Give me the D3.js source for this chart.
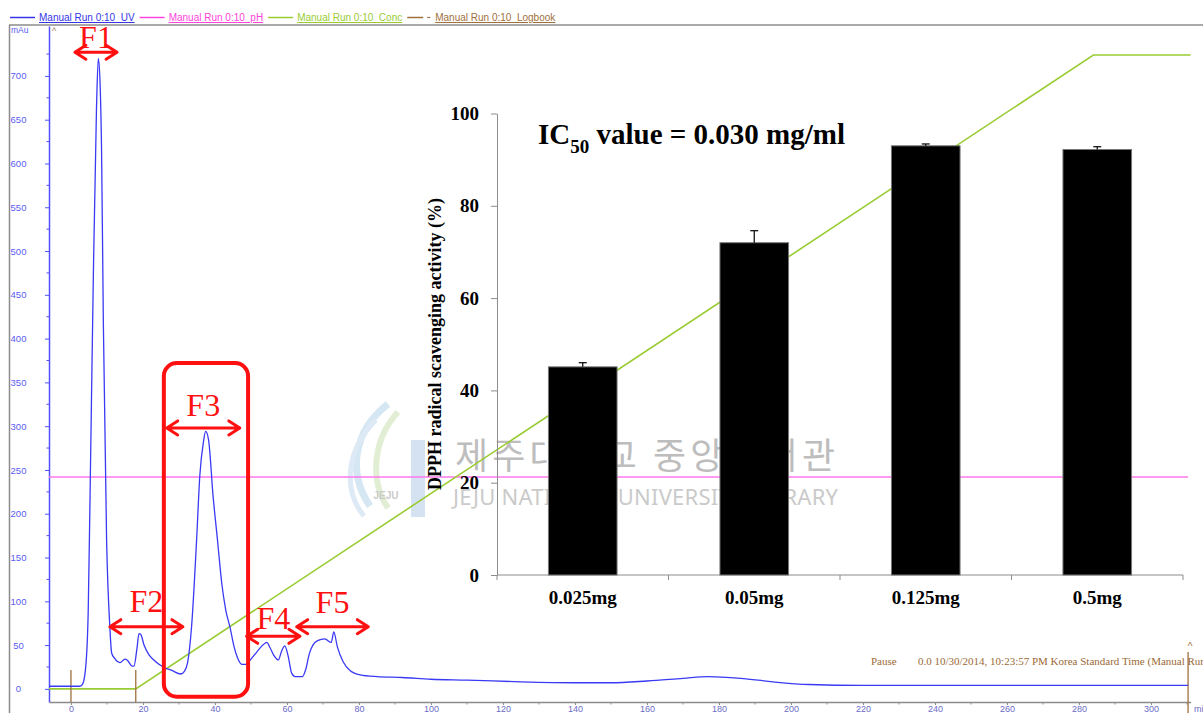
<!DOCTYPE html>
<html lang="en">
<head>
    <meta charset="UTF-8">
    <title>Chromatogram with DPPH inset</title>
    <style>
        body {
            margin: 0;
            background-color: #ffffff;
        }
        svg {
            display: block;
            font-family: 'Liberation Sans', Arial, sans-serif;
        }
        .serif {
            font-family: 'Liberation Serif', 'Times New Roman', serif;
        }
        .legend text {
            white-space: pre;
            text-decoration: underline;
        }
    </style>
    <script src="https://d3js.org/d3.v7.min.js"></script>
</head>
<body>
<svg id="chart" width="1203" height="713"></svg>
<script>
    // UV trace: [minutes, mAu]
    const uvTrace = [
        [-6.1, 3], [0, 3], [2.5, 3], [3.3, 6], [4.2, 30], [4.8, 90], [5.3, 219], [6.2, 467],
        [7.1, 665], [7.6, 720], [8.1, 690], [8.5, 615], [9.0, 417], [9.9, 170], [10.8, 71],
        [11.3, 41], [12.1, 35], [13.6, 30], [15.0, 34], [15.6, 33], [17.0, 26], [17.5, 26],
        [18.3, 45], [18.9, 63], [19.4, 62], [20.3, 50], [21.5, 40], [23, 33], [25.6, 25],
        [28, 21], [30.5, 17], [31.5, 20], [32.4, 30], [33.5, 71], [34.9, 170], [35.8, 244],
        [36.8, 282], [37.4, 294], [38.2, 285], [39.5, 219], [40.7, 170], [41.9, 120], [43.0, 90],
        [44.2, 70], [45.2, 50], [46.2, 36], [47.5, 28], [48.5, 28], [50, 34], [51.6, 42],
        [53.3, 50], [54.4, 53], [55.3, 47], [56.4, 38], [57.6, 33], [58.5, 43], [59.4, 49],
        [60.3, 38], [61.3, 18], [62.3, 14], [64.3, 14], [65.2, 22], [66.2, 40], [67.2, 50],
        [68.5, 55], [70.5, 57], [72.3, 53], [73.0, 65], [74.0, 48], [75.6, 31], [77.5, 21],
        [80.3, 16], [85, 14], [92, 13], [100, 11], [110, 10], [125, 8], [140, 7], [150, 7],
        [160, 9], [170, 12], [177, 14], [186, 12], [195, 8], [205, 5], [220, 4], [250, 4],
        [280, 4], [310.3, 4]
    ];
    // gradient (%), starts at 18 min and tops out at 284 min
    const concTrace = [[-6.1, 0], [18, 0], [284, 100], [311, 100]];
    const phLevel = 242;           // flat pH trace, sits at this height on the mAu axis
    const logbookMarks = [0, 18];  // minutes
    const pauseMark = 310.3;
    const pauseText = "0.0 10/30/2014, 10:23:57 PM Korea Standard Time (Manual Run)";

    const xTicks = d3.range(0, 301, 20);
    const xMinor = d3.range(10, 311, 20);
    const yTicks = d3.range(0, 701, 50);
    const yMinor = d3.range(25, 751, 50);

    const legendNames = ["Manual Run 0:10  UV", "Manual Run 0:10  pH", "Manual Run 0:10  Conc", "Manual Run 0:10  Logbook"];
    const legendColors = ["#3535e6", "#ff44dd", "#99cc33", "#a0703c"];

    // fraction annotations: [label, from min, to min, arrow level (mAu), label level (mAu)]
    const fractions = [
        ["F1", 1.1, 12.8, 727, 732],
        ["F2", 10.8, 31.1, 71, 88],
        ["F3", 26.6, 46.9, 298, 312],
        ["F4", 48.8, 63.6, 60, 68],
        ["F5", 62.7, 82.6, 71, 87]
    ];
    const boxedFraction = [25.8, 49.2, 372, -9];

    // inset bar chart
    const doses = ["0.025mg", "0.05mg", "0.125mg", "0.5mg"];
    const activity = [45.1, 72, 93, 92.2];
    const activityErr = [0.9, 2.6, 0.4, 0.6];
    const activityTicks = [0, 20, 40, 60, 80, 100];

    const svg = d3.select("#chart");

    const x = d3.scaleLinear().domain([-6.1, 311]).range([49, 1190.6]);
    const y = d3.scaleLinear().domain([-15, 757]).range([702, 26]);
    const yConc = d3.scaleLinear().domain([0, 100]).range([y(0), 55]);

    // frame around the run window
    svg.append("line").attr("x1", 9).attr("x2", 1203).attr("y1", 25).attr("y2", 25)
        .attr("stroke", "#8c8c8c").attr("stroke-width", 1.5);
    svg.append("line").attr("x1", 9.5).attr("x2", 9.5).attr("y1", 25).attr("y2", 713)
        .attr("stroke", "#8c8c8c").attr("stroke-width", 1.5);

    // legend strip, laid out left to right
    const legend = svg.append("g").attr("class", "legend");
    let cx = 10;
    legendNames.forEach((name, i) => {
        const lineLen = i === 3 ? 16 : 25;
        legend.append("line").attr("x1", cx).attr("x2", cx + lineLen)
            .attr("y1", 17.5).attr("y2", 17.5)
            .attr("stroke", legendColors[i]).attr("stroke-width", 1.5);
        cx += lineLen + 4;
        if (i === 3) {
            legend.append("line").attr("x1", cx).attr("x2", cx + 3)
                .attr("y1", 17.5).attr("y2", 17.5)
                .attr("stroke", legendColors[i]).attr("stroke-width", 1.2);
            cx += 8;
        }
        const t = legend.append("text").attr("x", cx).attr("y", 21)
            .attr("font-size", 10).attr("fill", legendColors[i]).text(name);
        cx += t.node().getComputedTextLength() + 5;
    });

    // watermark (sits under the traces)
    const wm = svg.append("g").attr("opacity", 0.7);
    wm.append("path").attr("d", "M388,404 C352,432 348,474 370,506")
        .attr("fill", "none").attr("stroke", "#c3ddef").attr("stroke-width", 7);
    wm.append("path").attr("d", "M398,412 C372,440 370,482 388,508")
        .attr("fill", "none").attr("stroke", "#d6e7c2").attr("stroke-width", 6);
    wm.append("path").attr("d", "M376,420 C344,452 344,492 364,516")
        .attr("fill", "none").attr("stroke", "#d0e2f2").attr("stroke-width", 5);
    wm.append("rect").attr("x", 411).attr("y", 440).attr("width", 14).attr("height", 77)
        .attr("fill", "#c4d6ec");
    wm.append("text").attr("x", 386).attr("y", 499).attr("text-anchor", "middle")
        .attr("font-size", 10).attr("font-weight", "bold").attr("fill", "#b5b5b5").text("JEJU");
    svg.append("text").attr("x", 455).attr("y", 468.5)
        .attr("font-family", "'Noto Sans CJK KR', sans-serif").attr("font-size", 36)
        .attr("textLength", 380).attr("fill", "#bdbdbd").text("제주대학교 중앙도서관");
    svg.append("text").attr("x", 453).attr("y", 505)
        .attr("font-family", "'Noto Sans', sans-serif").attr("font-size", 22)
        .attr("textLength", 385).attr("fill", "#cacaca").text("JEJU NATIONAL UNIVERSITY LIBRARY");

    // y axis (mAu)
    const yAxis = svg.append("g").attr("transform", `translate(${x(-6.1)},0)`)
        .call(d3.axisLeft(y).tickValues(yTicks).tickSize(4).tickSizeOuter(0));
    yAxis.select(".domain").attr("stroke", "#5050ff").attr("stroke-width", 1.5);
    yAxis.selectAll(".tick line").attr("stroke", "#5050ff");
    yAxis.selectAll(".tick text").attr("x", 18.5 - x(-6.1)).attr("text-anchor", "middle")
        .attr("font-size", 9.5).attr("fill", "#5c5cf0");
    svg.append("g").selectAll("line").data(yMinor).join("line")
        .attr("x1", x(-6.1) - 2.5).attr("x2", x(-6.1))
        .attr("y1", d => y(d)).attr("y2", d => y(d)).attr("stroke", "#5050ff");
    svg.append("text").attr("x", 11).attr("y", 33).attr("font-size", 8.5)
        .attr("fill", "#5c5cf0").text("mAu");
    svg.append("text").attr("x", 52).attr("y", 34).attr("font-size", 9)
        .attr("fill", "#a08060").text("^");

    // x axis (min)
    const xAxis = svg.append("g").attr("transform", `translate(0,${y(-15)})`)
        .call(d3.axisBottom(x).tickValues(xTicks).tickSize(3).tickSizeOuter(0));
    xAxis.select(".domain").attr("stroke", "#8a8a8a").attr("stroke-width", 1.5);
    xAxis.selectAll(".tick line").attr("stroke", "#8a8a8a");
    xAxis.selectAll(".tick text").attr("y", 10).attr("dy", 0)
        .attr("font-size", 9).attr("fill", "#6b6bc8");
    svg.append("g").selectAll("line").data(xMinor).join("line")
        .attr("x1", d => x(d)).attr("x2", d => x(d))
        .attr("y1", y(-15)).attr("y2", y(-15) + 2.5).attr("stroke", "#8a8a8a");
    svg.append("text").attr("x", 1194).attr("y", 712).attr("font-size", 9)
        .attr("fill", "#6b6bc8").text("min");

    // pH (flat) and gradient
    svg.append("line").attr("x1", x(-6.1)).attr("x2", x(pauseMark))
        .attr("y1", y(phLevel)).attr("y2", y(phLevel))
        .attr("stroke", "#ff77ee").attr("stroke-width", 1.5);
    svg.append("path").datum(concTrace)
        .attr("fill", "none").attr("stroke", "#99cc33").attr("stroke-width", 1.6)
        .attr("d", d3.line().x(d => x(d[0])).y(d => yConc(d[1])));

    // logbook marks
    svg.append("g").selectAll("line").data(logbookMarks).join("line")
        .attr("x1", d => x(d)).attr("x2", d => x(d))
        .attr("y1", 670).attr("y2", y(-15))
        .attr("stroke", "#a0703c").attr("stroke-width", 1.3);
    svg.append("line").attr("x1", x(pauseMark)).attr("x2", x(pauseMark))
        .attr("y1", 652).attr("y2", 713).attr("stroke", "#a0703c").attr("stroke-width", 1.3);
    svg.append("text").attr("x", x(pauseMark) + 2).attr("y", 650).attr("text-anchor", "middle")
        .attr("font-size", 10).attr("fill", "#a0703c").text("^");
    svg.append("text").attr("class", "serif").attr("x", 871).attr("y", 665)
        .attr("font-size", 11).attr("fill", "#9b6a36").text("Pause");
    svg.append("text").attr("class", "serif").attr("x", 918).attr("y", 665)
        .attr("font-size", 11).attr("fill", "#9b6a36").text(pauseText);

    // UV trace
    svg.append("path").datum(uvTrace)
        .attr("fill", "none").attr("stroke", "#3a3af5").attr("stroke-width", 1.3)
        .attr("d", d3.line().x(d => x(d[0])).y(d => y(d[1])).curve(d3.curveMonotoneX));

    // fraction annotations
    const red = "#ff1010";
    const ann = svg.append("g");
    ann.append("rect")
        .attr("x", x(boxedFraction[0])).attr("y", y(boxedFraction[2]))
        .attr("width", x(boxedFraction[1]) - x(boxedFraction[0]))
        .attr("height", y(boxedFraction[3]) - y(boxedFraction[2]))
        .attr("rx", 13).attr("fill", "none").attr("stroke", red).attr("stroke-width", 4);
    fractions.forEach(([label, from, to, level, textLevel]) => {
        const x1 = x(from), x2 = x(to), yy = y(level);
        ann.append("path")
            .attr("d", `M${x1},${yy}L${x2},${yy}` +
                `M${x1 + 11},${yy - 7}L${x1},${yy}L${x1 + 11},${yy + 7}` +
                `M${x2 - 11},${yy - 7}L${x2},${yy}L${x2 - 11},${yy + 7}`)
            .attr("fill", "none").attr("stroke", red).attr("stroke-width", 3)
            .attr("stroke-linecap", "round").attr("stroke-linejoin", "round");
        ann.append("text").attr("class", "serif")
            .attr("x", (x1 + x2) / 2).attr("y", y(textLevel)).attr("text-anchor", "middle")
            .attr("font-size", 32).attr("fill", red).text(label);
    });

    // inset: DPPH radical scavenging activity
    const xb = d3.scaleBand().domain(doses).range([497, 1183]).paddingInner(0.6).paddingOuter(0.3);
    const yb = d3.scaleLinear().domain([0, 100]).range([575, 113.5]);
    const inset = svg.append("g").attr("class", "serif");

    const ybAxis = inset.append("g").attr("transform", "translate(497,0)")
        .call(d3.axisLeft(yb).tickValues(activityTicks).tickSize(6).tickPadding(12).tickSizeOuter(0));
    ybAxis.select(".domain").attr("stroke", "#8c8c8c");
    ybAxis.selectAll(".tick line").attr("stroke", "#8c8c8c");
    ybAxis.selectAll(".tick text").attr("font-family", "'Liberation Serif', 'Times New Roman', serif")
        .attr("font-size", 19).attr("font-weight", "bold").attr("fill", "#000");

    inset.append("line").attr("x1", 497).attr("x2", 1183).attr("y1", yb(0)).attr("y2", yb(0))
        .attr("stroke", "#8c8c8c");
    inset.append("g").selectAll("line").data(d3.range(doses.length + 1)).join("line")
        .attr("x1", i => xb.range()[0] + i * xb.step()).attr("x2", i => xb.range()[0] + i * xb.step())
        .attr("y1", yb(0)).attr("y2", yb(0) + 5).attr("stroke", "#8c8c8c");

    inset.append("g").selectAll("rect").data(doses).join("rect")
        .attr("x", d => xb(d)).attr("width", xb.bandwidth())
        .attr("y", (d, i) => yb(activity[i])).attr("height", (d, i) => yb(0) - yb(activity[i]))
        .attr("fill", "#000").attr("stroke", "#777").attr("stroke-width", 1);

    const err = inset.append("g").attr("stroke", "#000").attr("stroke-width", 1.2);
    doses.forEach((d, i) => {
        const cxb = xb(d) + xb.bandwidth() / 2;
        err.append("line").attr("x1", cxb).attr("x2", cxb)
            .attr("y1", yb(activity[i])).attr("y2", yb(activity[i] + activityErr[i]));
        err.append("line").attr("x1", cxb - 4).attr("x2", cxb + 4)
            .attr("y1", yb(activity[i] + activityErr[i])).attr("y2", yb(activity[i] + activityErr[i]));
    });

    inset.append("g").selectAll("text").data(doses).join("text")
        .attr("x", d => xb(d) + xb.bandwidth() / 2).attr("y", 604)
        .attr("text-anchor", "middle").attr("font-size", 19).attr("font-weight", "bold")
        .text(d => d);

    inset.append("text").attr("transform", "translate(441,344) rotate(-90)")
        .attr("text-anchor", "middle").attr("font-size", 18).attr("font-weight", "bold")
        .text("DPPH radical scavenging activity (%)");

    const ic = inset.append("text").attr("x", 538).attr("y", 144)
        .attr("font-size", 29).attr("font-weight", "bold");
    ic.append("tspan").text("IC");
    ic.append("tspan").attr("font-size", 19).attr("dy", 9).text("50");
    ic.append("tspan").attr("dy", -9).text(" value = 0.030 mg/ml");
</script>
</body>
</html>
